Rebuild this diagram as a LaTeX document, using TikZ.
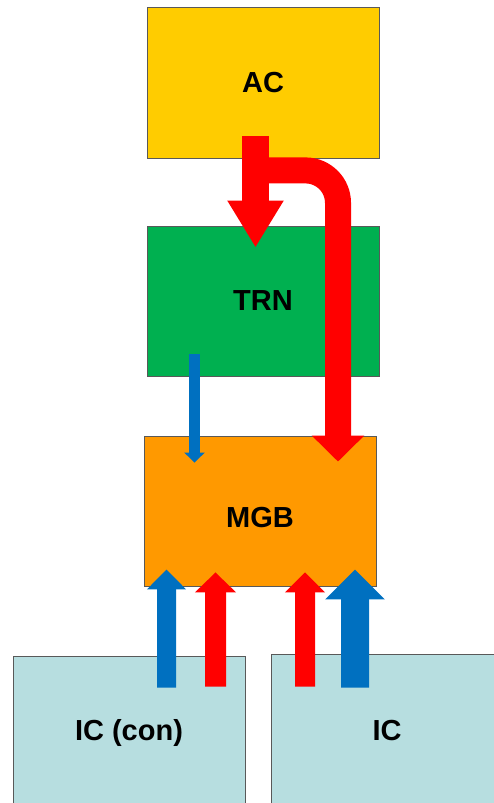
\documentclass[tikz,border=0pt]{standalone}
\usepackage{fontspec}
\setmainfont{Liberation Sans}
\usepackage{tikz}
\usetikzlibrary{arrows.meta,positioning,calc}
\definecolor{acyellow}{HTML}{FFCC00}
\definecolor{trngreen}{HTML}{00B050}
\definecolor{mgborange}{HTML}{FF9900}
\definecolor{icblue}{HTML}{B7DEE0}
\definecolor{flowred}{HTML}{FF0000}
\definecolor{flowblue}{HTML}{0070C0}
\tikzset{%
    unit/.style={%
        rectangle, minimum width=4.64cm, minimum height=3cm, text centered,
        draw=gray!70!black, line width=0.5pt, font=\fontsize{16.5}{19}\selectfont\bfseries
    },
    flow/.style n args={3}{%
        line width=#1, -{Triangle[width=#2,length=#3]}
    },
}
\begin{document}
\begin{tikzpicture}
      \useasboundingbox (0,0) rectangle (9.88,16.06);
      \begin{scope}
      \clip (0,0) rectangle (9.88,16.06);
      \node[unit, fill=acyellow, minimum height=3.02cm] (AC) at (5.26,14.41) {AC};
      \node[unit, fill=trngreen] (TRN) at (5.26,10.04) {TRN};
      \node[unit, fill=mgborange] (MGB) at (5.2,5.84) {\raisebox{-0.14cm}[\height][\depth]{MGB}};
      \node[unit, fill=icblue, minimum height=3.08cm] (ICcon) at (2.58,1.4) {IC (con)};
      \node[unit, fill=icblue, minimum height=3.08cm] (IC) at (7.74,1.44) {IC};
      \end{scope}

      % AC to TRN and MGB
      \draw[flow={0.54cm}{1.06cm}{0.94cm}, flowred]
        ([xshift=-0.15cm,yshift=0.44cm]AC.south) -- ([xshift=-0.15cm,yshift=-0.44cm]TRN.north);
      \draw[flow={0.52cm}{1.02cm}{0.52cm}, flowred, rounded corners=0.65cm]
        ([xshift=-0.15cm,yshift=-0.24cm]AC.south) -| ([xshift=1.56cm,yshift=-0.52cm]MGB.north);
      % TRN to MGB
      \draw[flow={0.22cm}{0.4cm}{0.2cm}, flowblue]
        ([xshift=-1.37cm,yshift=0.44cm]TRN.south) -- ([xshift=-1.31cm,yshift=-0.54cm]MGB.north);

      % ICs to MGB
      \draw[flow={0.38cm}{0.76cm}{0.4cm}, flowblue]
        ([xshift=0.75cm,yshift=-0.64cm]ICcon.north) -- ([xshift=-1.87cm,yshift=0.34cm]MGB.south);
      \draw[flow={0.42cm}{0.8cm}{0.4cm}, flowred]
        ([xshift=1.73cm,yshift=-0.62cm]ICcon.north) -- ([xshift=-0.89cm,yshift=0.28cm]MGB.south);
      \draw[flow={0.4cm}{0.78cm}{0.4cm}, flowred]
        ([xshift=-1.64cm,yshift=-0.66cm]IC.north) -- ([xshift=0.9cm,yshift=0.28cm]MGB.south);
      \draw[flow={0.56cm}{1.16cm}{0.6cm}, flowblue]
        ([xshift=-0.64cm,yshift=-0.68cm]IC.north) -- ([xshift=1.9cm,yshift=0.34cm]MGB.south);
\end{tikzpicture}
\end{document}
